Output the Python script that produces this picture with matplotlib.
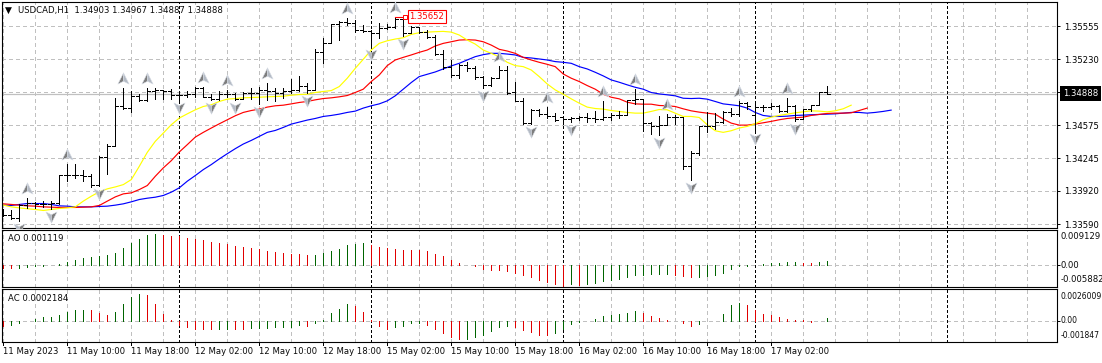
import matplotlib
matplotlib.use("Agg")
import matplotlib.pyplot as plt
import matplotlib.transforms as mtransforms
from matplotlib.path import Path
import numpy as np

symbol = "USDCAD,H1"

opens = [1.33720, 1.33686, 1.33654, 1.33776, 1.33802, 1.33795, 1.33795, 1.33802, 1.34076, 1.34076,
         1.34083, 1.34066, 1.33977, 1.34254, 1.34370, 1.34766, 1.34743, 1.34868, 1.34825, 1.34917,
         1.34924, 1.34917, 1.34875, 1.34875, 1.34881, 1.34941, 1.34858, 1.34832, 1.34884, 1.34884,
         1.34832, 1.34891, 1.34891, 1.34924, 1.34917, 1.34891, 1.34917, 1.34924, 1.34967, 1.34924,
         1.35297, 1.35393, 1.35577, 1.35600, 1.35591, 1.35518, 1.35511, 1.35485, 1.35541, 1.35544,
         1.35624, 1.35485, 1.35544, 1.35502, 1.35445, 1.35277, 1.35155, 1.35072, 1.35171, 1.35138,
         1.35049, 1.34973, 1.35046, 1.35122, 1.34898, 1.34815, 1.34594, 1.34726, 1.34686, 1.34660,
         1.34653, 1.34634, 1.34644, 1.34653, 1.34644, 1.34634, 1.34653, 1.34670, 1.34677, 1.34825,
         1.34832, 1.34594, 1.34568, 1.34578, 1.34653, 1.34653, 1.34165, 1.34297, 1.34561, 1.34561,
         1.34601, 1.34700, 1.34683, 1.34792, 1.34677, 1.34753, 1.34753, 1.34759, 1.34716, 1.34766,
         1.34634, 1.34733, 1.34769, 1.34903]
highs = [1.33736, 1.33729, 1.33786, 1.33848, 1.33812, 1.33818, 1.33818, 1.34083, 1.34191, 1.34191,
         1.34132, 1.34093, 1.34264, 1.34389, 1.34848, 1.34947, 1.34917, 1.34881, 1.34947, 1.34947,
         1.34924, 1.34931, 1.34891, 1.34908, 1.34950, 1.34950, 1.34881, 1.34908, 1.34924, 1.34891,
         1.34898, 1.34947, 1.34950, 1.34990, 1.34941, 1.34941, 1.35030, 1.35063, 1.34990, 1.35327,
         1.35436, 1.35577, 1.35610, 1.35643, 1.35617, 1.35568, 1.35518, 1.35584, 1.35577, 1.35652,
         1.35624, 1.35558, 1.35544, 1.35518, 1.35469, 1.35320, 1.35221, 1.35178, 1.35198, 1.35165,
         1.35066, 1.35056, 1.35165, 1.35165, 1.35000, 1.34841, 1.34733, 1.34733, 1.34749, 1.34693,
         1.34660, 1.34653, 1.34667, 1.34693, 1.34710, 1.34815, 1.34693, 1.34710, 1.34825, 1.34934,
         1.34825, 1.34604, 1.34660, 1.34686, 1.34670, 1.34653, 1.34314, 1.34561, 1.34700, 1.34693,
         1.34710, 1.34743, 1.34815, 1.34802, 1.34792, 1.34776, 1.34792, 1.34776, 1.34848, 1.34776,
         1.34736, 1.34776, 1.34898, 1.34967]
lows = [1.33670, 1.33644, 1.33621, 1.33752, 1.33752, 1.33762, 1.33736, 1.33795, 1.34017, 1.34050,
        1.34017, 1.33960, 1.33967, 1.34093, 1.34370, 1.34733, 1.34700, 1.34809, 1.34809, 1.34835,
        1.34835, 1.34835, 1.34819, 1.34858, 1.34858, 1.34851, 1.34819, 1.34819, 1.34858, 1.34819,
        1.34832, 1.34835, 1.34785, 1.34825, 1.34809, 1.34842, 1.34891, 1.34908, 1.34891, 1.34924,
        1.35188, 1.35386, 1.35419, 1.35568, 1.35502, 1.35502, 1.35353, 1.35442, 1.35528, 1.35535,
        1.35462, 1.35485, 1.35485, 1.35436, 1.35271, 1.35129, 1.35056, 1.35040, 1.35115, 1.35033,
        1.34947, 1.34967, 1.35040, 1.34881, 1.34815, 1.34587, 1.34587, 1.34667, 1.34644, 1.34611,
        1.34587, 1.34601, 1.34627, 1.34604, 1.34604, 1.34627, 1.34620, 1.34644, 1.34677, 1.34785,
        1.34512, 1.34485, 1.34472, 1.34578, 1.34587, 1.34139, 1.34027, 1.34281, 1.34505, 1.34535,
        1.34594, 1.34660, 1.34660, 1.34736, 1.34518, 1.34716, 1.34736, 1.34703, 1.34703, 1.34611,
        1.34634, 1.34716, 1.34769, 1.34887]
closes = [1.33686, 1.33654, 1.33776, 1.33802, 1.33795, 1.33795, 1.33802, 1.34076, 1.34076, 1.34083,
          1.34066, 1.33977, 1.34254, 1.34370, 1.34766, 1.34743, 1.34868, 1.34825, 1.34917, 1.34924,
          1.34917, 1.34875, 1.34875, 1.34881, 1.34941, 1.34858, 1.34832, 1.34884, 1.34884, 1.34832,
          1.34891, 1.34891, 1.34924, 1.34917, 1.34891, 1.34917, 1.34924, 1.34967, 1.34924, 1.35297,
          1.35393, 1.35577, 1.35600, 1.35591, 1.35518, 1.35511, 1.35485, 1.35541, 1.35544, 1.35624,
          1.35485, 1.35544, 1.35502, 1.35445, 1.35277, 1.35155, 1.35072, 1.35171, 1.35138, 1.35049,
          1.34973, 1.35046, 1.35122, 1.34891, 1.34815, 1.34594, 1.34726, 1.34686, 1.34660, 1.34620,
          1.34634, 1.34644, 1.34653, 1.34644, 1.34634, 1.34653, 1.34670, 1.34677, 1.34825, 1.34832,
          1.34594, 1.34568, 1.34578, 1.34653, 1.34653, 1.34165, 1.34297, 1.34561, 1.34561, 1.34601,
          1.34700, 1.34683, 1.34792, 1.34759, 1.34753, 1.34753, 1.34759, 1.34716, 1.34766, 1.34634,
          1.34733, 1.34769, 1.34898, 1.34888]

# alligator lines, drawn further right than the bars
jaw = [1.33779, 1.33776, 1.33786, 1.33795, 1.33795, 1.33795, 1.33786, 1.33772, 1.33769, 1.33762,
       1.33762, 1.33762, 1.33766, 1.33769, 1.33779, 1.33792, 1.33812, 1.33835, 1.33848, 1.33858,
       1.33875, 1.33908, 1.33951, 1.34017, 1.34073, 1.34132, 1.34182, 1.34238, 1.34290, 1.34340,
       1.34386, 1.34422, 1.34462, 1.34502, 1.34521, 1.34551, 1.34584, 1.34604, 1.34624, 1.34640,
       1.34660, 1.34670, 1.34683, 1.34700, 1.34713, 1.34743, 1.34766, 1.34785, 1.34815, 1.34865,
       1.34931, 1.34997, 1.35056, 1.35079, 1.35102, 1.35132, 1.35162, 1.35188, 1.35221, 1.35254,
       1.35274, 1.35287, 1.35287, 1.35280, 1.35271, 1.35247, 1.35241, 1.35231, 1.35221, 1.35205,
       1.35198, 1.35188, 1.35155, 1.35132, 1.35099, 1.35063, 1.35023, 1.35000, 1.34974, 1.34950,
       1.34931, 1.34898, 1.34884, 1.34875, 1.34865, 1.34841, 1.34838, 1.34841, 1.34832, 1.34809,
       1.34785, 1.34776, 1.34766, 1.34743, 1.34700, 1.34670, 1.34660, 1.34660, 1.34663, 1.34670,
       1.34673, 1.34677, 1.34680, 1.34683, 1.34686, 1.34693, 1.34700, 1.34700, 1.34693, 1.34700,
       1.34710, 1.34723]
teeth = [1.33792, 1.33786, 1.33779, 1.33772, 1.33769, 1.33762, 1.33759, 1.33756, 1.33756, 1.33756,
         1.33759, 1.33762, 1.33776, 1.33819, 1.33861, 1.33891, 1.33901, 1.33934, 1.33974, 1.34066,
         1.34149, 1.34221, 1.34307, 1.34380, 1.34455, 1.34502, 1.34545, 1.34587, 1.34627, 1.34667,
         1.34700, 1.34719, 1.34733, 1.34753, 1.34766, 1.34772, 1.34785, 1.34799, 1.34809, 1.34825,
         1.34838, 1.34845, 1.34855, 1.34868, 1.34898, 1.34931, 1.35007, 1.35072, 1.35165, 1.35221,
         1.35247, 1.35271, 1.35297, 1.35320, 1.35360, 1.35386, 1.35402, 1.35419, 1.35422, 1.35419,
         1.35402, 1.35369, 1.35327, 1.35310, 1.35287, 1.35247, 1.35221, 1.35198, 1.35178, 1.35155,
         1.35082, 1.35040, 1.35007, 1.34967, 1.34931, 1.34881, 1.34851, 1.34835, 1.34802, 1.34785,
         1.34782, 1.34782, 1.34769, 1.34766, 1.34759, 1.34736, 1.34716, 1.34703, 1.34693, 1.34683,
         1.34634, 1.34594, 1.34574, 1.34574, 1.34584, 1.34597, 1.34611, 1.34627, 1.34640, 1.34647,
         1.34653, 1.34670, 1.34680, 1.34690, 1.34693, 1.34693, 1.34696, 1.34719, 1.34743]
lips = [1.33779, 1.33762, 1.33752, 1.33743, 1.33736, 1.33726, 1.33736, 1.33746, 1.33752, 1.33762,
        1.33819, 1.33868, 1.33911, 1.33941, 1.33960, 1.33983, 1.34033, 1.34165, 1.34304, 1.34413,
        1.34495, 1.34578, 1.34644, 1.34686, 1.34726, 1.34759, 1.34776, 1.34809, 1.34832, 1.34838,
        1.34845, 1.34848, 1.34851, 1.34855, 1.34858, 1.34861, 1.34871, 1.34878, 1.34881, 1.34898,
        1.34908, 1.34917, 1.34957, 1.35040, 1.35138, 1.35228, 1.35320, 1.35386, 1.35412, 1.35429,
        1.35442, 1.35475, 1.35492, 1.35498, 1.35502, 1.35505, 1.35498, 1.35469, 1.35419, 1.35379,
        1.35320, 1.35287, 1.35254, 1.35198, 1.35165, 1.35155, 1.35122, 1.35056, 1.34983, 1.34924,
        1.34881, 1.34835, 1.34792, 1.34753, 1.34739, 1.34733, 1.34719, 1.34710, 1.34700, 1.34693,
        1.34693, 1.34710, 1.34729, 1.34726, 1.34693, 1.34660, 1.34660, 1.34650, 1.34578, 1.34518,
        1.34502, 1.34518, 1.34545, 1.34561, 1.34587, 1.34627, 1.34653, 1.34670, 1.34683, 1.34696,
        1.34706, 1.34716, 1.34713, 1.34706, 1.34716, 1.34736, 1.34772]

ao = [-0.00068, -0.00076, -0.00068, -0.00042, -0.00017, -0.00008, 0.00004, 0.00025, 0.00085, 0.00135,
      0.00186, 0.00211, 0.00245, 0.00262, 0.00313, 0.00439, 0.00583, 0.00668, 0.00777, 0.00794,
      0.00769, 0.00761, 0.00744, 0.00693, 0.00668, 0.00642, 0.00600, 0.00566, 0.00541, 0.00490,
      0.00465, 0.00439, 0.00414, 0.00363, 0.00338, 0.00313, 0.00287, 0.00279, 0.00254, 0.00270,
      0.00313, 0.00363, 0.00414, 0.00515, 0.00549, 0.00575, 0.00515, 0.00465, 0.00439, 0.00414,
      0.00393, 0.00389, 0.00384, 0.00363, 0.00287, 0.00237, 0.00135, 0.00059, 0.00000, -0.00025,
      -0.00093, -0.00118, -0.00123, -0.00135, -0.00203, -0.00245, -0.00296, -0.00363, -0.00431, -0.00473,
      -0.00524, -0.00482, -0.00490, -0.00473, -0.00448, -0.00389, -0.00372, -0.00338, -0.00296, -0.00245,
      -0.00237, -0.00228, -0.00220, -0.00211, -0.00245, -0.00270, -0.00296, -0.00287, -0.00270, -0.00254,
      -0.00194, -0.00085, -0.00017, -0.00008, 0.00004, 0.00025, 0.00051, 0.00072, 0.00076, 0.00080,
      0.00068, 0.00059, 0.00085, 0.001119]
ac = [-0.00042, -0.00036, -0.00017, -0.00003, 0.00019, 0.00030, 0.00033, 0.00047, 0.00075, 0.00089,
      0.00091, 0.00089, 0.00064, 0.00047, 0.00072, 0.00138, 0.00199, 0.00221, 0.00213, 0.00136,
      0.00055, 0.00003, -0.00036, -0.00050, -0.00064, -0.00068, -0.00069, -0.00066, -0.00064, -0.00066,
      -0.00069, -0.00061, -0.00058, -0.00055, -0.00053, -0.00050, -0.00047, -0.00036, -0.00044, -0.00017,
      0.00008, 0.00064, 0.00097, 0.00138, 0.00122, 0.00072, 0.00006, -0.00042, -0.00069, -0.00050,
      -0.00044, -0.00017, -0.00014, -0.00033, -0.00069, -0.00102, -0.00133, -0.00152, -0.00149, -0.00133,
      -0.00113, -0.00083, -0.00053, -0.00042, -0.00050, -0.00075, -0.00091, -0.00116, -0.00119, -0.00102,
      -0.00069, -0.00028, -0.00006, 0.00000, 0.00014, 0.00039, 0.00050, 0.00055, 0.00064, 0.00080,
      0.00061, 0.00039, 0.00022, 0.00003, -0.00003, -0.00017, -0.00042, -0.00025, -0.00003, 0.00000,
      0.00055, 0.00130, 0.00147, 0.00130, 0.00091, 0.00055, 0.00050, 0.00028, 0.00014, 0.00006,
      0.00003, -0.00008, 0.00000, 0.0002184]

fractal_up = [3, 8, 15, 18, 25, 28, 33, 43, 49, 62, 68, 75, 79, 83, 92, 98]
fractal_down = [2, 6, 12, 22, 26, 29, 32, 38, 46, 50, 60, 66, 71, 82, 86, 94, 99]

price_ticks = [1.35555, 1.35230, 1.34905, 1.34575, 1.34245, 1.33920, 1.33590]
time_labels = ["11 May 2023", "11 May 10:00", "11 May 18:00", "12 May 02:00", "12 May 10:00",
               "12 May 18:00", "15 May 02:00", "15 May 10:00", "15 May 18:00", "16 May 02:00",
               "16 May 10:00", "16 May 18:00", "17 May 02:00"]
period_bars = [22, 46, 70, 94, 118]

W, H = 1102, 363
FS = 6.15
GRID = "#c0c0c0"
GREEN = "#006400"
RED = "#e00000"
LW = 0.66  # one pixel, for the lines drawn without antialiasing
DASH = (2.2, 2.2)

plt.rcParams["font.family"] = "DejaVu Sans"
plt.rcParams["lines.scale_dashes"] = False
plt.rcParams["text.color"] = "#0a0a0a"


def panel(fig, top, bottom):
    ax = fig.add_axes([2.3 / W, 1 - bottom / H, (1056.7 - 2.3) / W, (bottom - top) / H])
    ax.set_xlim(-0.13, 131.7)
    ax.set_axisbelow(True)
    for s in ax.spines.values():
        s.set_linewidth(0.8)
    ax.set_xticks(range(0, 132, 4))
    ax.tick_params(length=0, labelbottom=False, labelleft=False)
    ax.grid(axis="x", color=GRID, lw=LW, dashes=DASH, antialiased=False)
    for b in period_bars:
        ax.axvline(b, color="black", lw=LW, dashes=(2.0, 2.0), zorder=1.5, antialiased=False)
    return ax


def histogram(ax, values):
    x = np.arange(len(values))
    vals = np.array(values)
    rising = np.r_[False, np.diff(vals) > 0]
    ax.vlines(x[rising], 0, vals[rising], color=GREEN, lw=LW, antialiased=False, zorder=2)
    ax.vlines(x[~rising], 0, vals[~rising], color=RED, lw=LW, antialiased=False, zorder=2)
    ax.axhline(0, color=GRID, lw=LW, dashes=DASH, antialiased=False, zorder=1)
    ax.set_yticks([0])
    ax.yaxis.tick_right()
    ax.tick_params(axis="y", length=2.2, width=0.7, labelright=False)


def scale_labels(ax, top_text, top_f, bottom_text, bottom_f, size):
    y0, y1 = ax.get_ylim()
    zero_f = (0 - y0) / (y1 - y0)
    for s, f in [(top_text, top_f), ("0.00", zero_f), (bottom_text, bottom_f)]:
        ax.annotate(s, xy=(1, f), xycoords="axes fraction", xytext=(3.5, 0), textcoords="offset pixels",
                    fontsize=size, va="center", ha="left", annotation_clip=False)


fig = plt.figure(figsize=(W / 100, H / 100), dpi=100, facecolor="white")

# main chart
ax = panel(fig, 2.2, 228.4)
ax.set_ylim(1.33548, 1.35795)
ax.set_yticks(price_ticks)
ax.yaxis.tick_right()
ax.set_yticklabels([f"{t:.5f}" if t != 1.34905 else "" for t in price_ticks], fontsize=FS)
ax.tick_params(axis="y", length=2.2, width=0.7, pad=3.2, labelright=True)
ax.grid(axis="y", color=GRID, lw=LW, dashes=DASH, antialiased=False)

x = np.arange(len(closes))
last = closes[-1]
ax.axhline(last, color="#c0c0c0", lw=0.9, zorder=1.2)

ax.plot(np.arange(len(jaw)), jaw, color="#0000ff", lw=0.85, zorder=2.2)
ax.plot(np.arange(len(teeth)), teeth, color="#ff0000", lw=0.85, zorder=2.3)
ax.plot(np.arange(len(lips)), lips, color="#ffff00", lw=0.85, zorder=2.4)

ax.vlines(x, lows, highs, color="black", lw=LW, antialiased=False, zorder=3)
ax.hlines(opens, x - 0.36, x, color="black", lw=LW, antialiased=False, zorder=3)
ax.hlines(closes, x, x + 0.36, color="black", lw=LW, antialiased=False, zorder=3)

# fractal arrows sit a few pixels off the extreme of their bar, two tone like the platform icon
up_left = Path([(0, 1), (0, -0.5), (-1, -1), (0, 1)], closed=True)
up_right = Path([(0, 1), (1, -1), (0, -0.5), (0, 1)], closed=True)
down_left = Path([(0, -1), (0, 0.5), (-1, 1), (0, -1)], closed=True)
down_right = Path([(0, -1), (1, 1), (0, 0.5), (0, -1)], closed=True)
up_tr = mtransforms.offset_copy(ax.transData, fig=fig, y=10, units="dots")
down_tr = mtransforms.offset_copy(ax.transData, fig=fig, y=-8, units="dots")
up_y = [highs[i] for i in fractal_up]
down_y = [lows[i] for i in fractal_down]
for shape, colour in [(up_left, "#7d7d7d"), (up_right, "#b4bac4")]:
    ax.plot(fractal_up, up_y, ls="", marker=shape, ms=8, mfc=colour, mec="#d5dbe4", mew=0.4,
            transform=up_tr, zorder=4)
for shape, colour in [(down_left, "#b4bac4"), (down_right, "#7d7d7d")]:
    ax.plot(fractal_down, down_y, ls="", marker=shape, ms=8, mfc=colour, mec="#d5dbe4", mew=0.4,
            transform=down_tr, zorder=4)

# header
ax.annotate("\u25bc", xy=(0, 1), xycoords="axes fraction", xytext=(3, -8.6), textcoords="offset pixels",
            fontsize=6.5, va="center", ha="left", color="black")
ax.annotate(f"{symbol}  {opens[-1]:.5f} {highs[-1]:.5f} {lows[-1]:.5f} {closes[-1]:.5f}", xy=(0, 1),
            xycoords="axes fraction", xytext=(15.5, -8.4), textcoords="offset pixels", fontsize=FS,
            va="center", ha="left")

# max label
top_bar = int(np.argmax(highs))
ax.plot([top_bar, top_bar + 1.25], [highs[top_bar]] * 2, color="#ff0000", lw=0.8, zorder=4)
ax.plot([top_bar + 1.25], [highs[top_bar]], ls="", marker="s", ms=2.6, mfc="white", mec="#ff0000", mew=0.7, zorder=5)
ax.annotate(f"{highs[top_bar]:.5f}", xy=(top_bar + 1.25, highs[top_bar]), xytext=(4, 0),
            textcoords="offset pixels", fontsize=FS, color="#ff0000", va="center", ha="left", zorder=6,
            bbox=dict(boxstyle="square,pad=0.2", fc="white", ec="#ff0000", lw=0.8))

# current price box
ax.annotate(f"{last:.5f}", xy=(1, last), xycoords=("axes fraction", "data"), xytext=(6, 0),
            textcoords="offset pixels", fontsize=FS, color="white", va="center", ha="left", zorder=6,
            annotation_clip=False, bbox=dict(boxstyle="square,pad=0.3", fc="black", ec="black", lw=0))

# AO panel
ax_ao = panel(fig, 229.6, 287.0)
ax_ao.set_ylim(-0.00549, 0.009129)
histogram(ax_ao, ao)
ax_ao.annotate(f"AO {ao[-1]:.6f}", xy=(0, 1), xycoords="axes fraction", xytext=(5.2, -8.6),
               textcoords="offset pixels", fontsize=FS, va="center", ha="left")
scale_labels(ax_ao, "0.009129", 0.878, "-0.005882", 0.122, FS)

# AC panel, its scale labels are a bit longer and have to stay inside the picture
ax_ac = panel(fig, 289.3, 342.3)
ax_ac.set_ylim(-0.00177, 0.0026009)
histogram(ax_ac, ac)
ax_ac.annotate(f"AC {ac[-1]:.7f}", xy=(0, 1), xycoords="axes fraction", xytext=(5.2, -9.2),
               textcoords="offset pixels", fontsize=FS, va="center", ha="left")
scale_labels(ax_ac, "0.0026009", 0.867, "-0.001847", 0.12, 5.5)

# time axis: short marks and labels starting at the mark
ticks_t = np.arange(len(time_labels)) * 8
ax_ac.vlines(ticks_t, -0.06, 0, transform=ax_ac.get_xaxis_transform(), color="black", lw=LW,
             antialiased=False, clip_on=False)
for t, s in zip(ticks_t, time_labels):
    ax_ac.annotate(s, xy=(t, 0), xycoords=("data", "axes fraction"), xytext=(0, -9.5),
                   textcoords="offset pixels", fontsize=FS, va="center", ha="left", annotation_clip=False)

fig.savefig("out.png", dpi=100, facecolor="white")
